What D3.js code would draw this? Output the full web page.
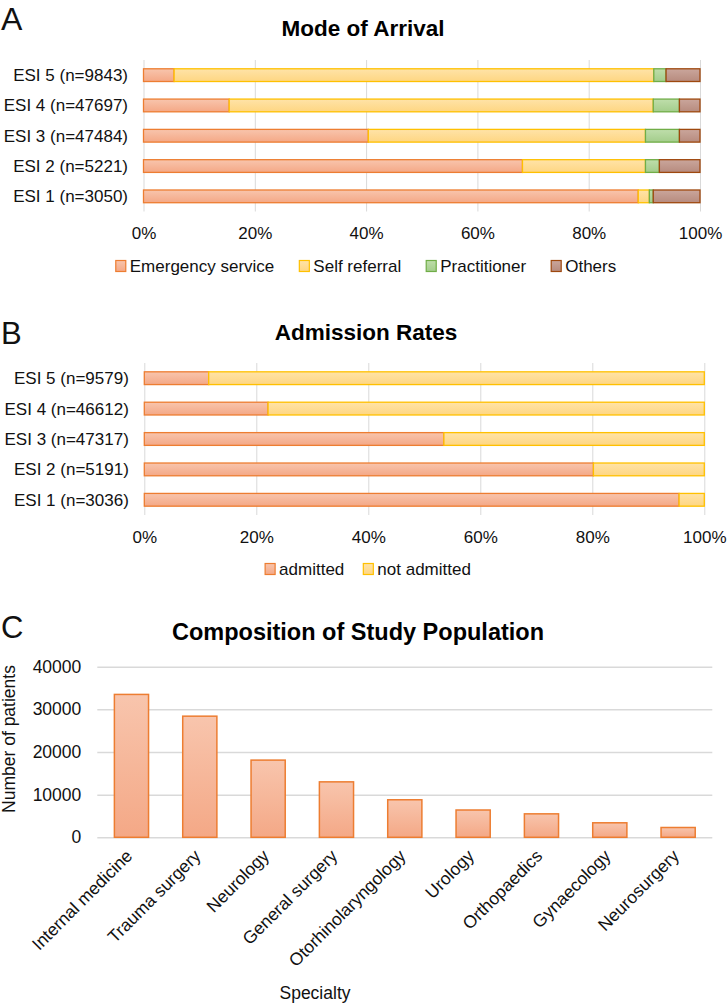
<!DOCTYPE html>
<html><head><meta charset="utf-8">
<script src="https://cdn.jsdelivr.net/npm/d3@7"></script>
<style>
body{margin:0;background:#fff}
svg{display:block;font-family:"Liberation Sans",Arial,Helvetica,sans-serif}
</style>
</head><body>
<svg id="chart" width="727" height="1004"></svg>
<script>
// ---------- Panel A: Mode of Arrival ----------
const arrivalCategories = ["ESI 1 (n=3050)", "ESI 2 (n=5221)", "ESI 3 (n=47484)", "ESI 4 (n=47697)", "ESI 5 (n=9843)"];
const arrivalSeries = ["Emergency service", "Self referral", "Practitioner", "Others"];
const emergencyService = [88.9, 68.1, 40.4, 15.4, 5.5];
const selfReferral     = [2.0, 22.1, 49.8, 76.2, 86.2];
const practitioner     = [0.7, 2.5, 6.1, 4.7, 2.2];
const others           = [8.4, 7.3, 3.7, 3.7, 6.1];

// ---------- Panel B: Admission Rates ----------
const admissionCategories = ["ESI 1 (n=3036)", "ESI 2 (n=5191)", "ESI 3 (n=47317)", "ESI 4 (n=46612)", "ESI 5 (n=9579)"];
const admissionSeries = ["admitted", "not admitted"];
const admitted    = [95.5, 80.2, 53.5, 22.1, 11.5];
const notAdmitted = [4.5, 19.8, 46.5, 77.9, 88.5];

// ---------- Panel C: Composition of Study Population ----------
const specialties = ["Internal medicine", "Trauma surgery", "Neurology", "General surgery", "Otorhinolaryngology", "Urology", "Orthopaedics", "Gynaecology", "Neurosurgery"];
const patients = [33500, 28400, 18100, 13000, 8800, 6400, 5500, 3400, 2300];

const percentTicks = [0, 20, 40, 60, 80, 100];
const countTicks = [0, 10000, 20000, 30000, 40000];

// ---------- styles ----------
const palette = {
  "Emergency service": {stroke: "#ed7d31", top: "#f8c5ad", bot: "#f4a886"},
  "Self referral":     {stroke: "#ffc000", top: "#ffe3a8", bot: "#fed682"},
  "Practitioner":      {stroke: "#70ad47", top: "#bfdeab", bot: "#a3cd8b"},
  "Others":            {stroke: "#9e480e", top: "#caa69c", bot: "#b78b7e"},
  "admitted":          {stroke: "#ed7d31", top: "#f8c5ad", bot: "#f4a886"},
  "not admitted":      {stroke: "#ffc000", top: "#ffe3a8", bot: "#fed682"}
};
const gridColor = "#d9d9d9";
const textColor = "#111";

const svg = d3.select("#chart");
svg.append("rect").attr("width", 727).attr("height", 1004).attr("fill", "#fff");
const defs = svg.append("defs");
Object.keys(palette).forEach((k, i) => {
  const g = defs.append("linearGradient").attr("id", "g" + i).attr("x1", 0).attr("y1", 0).attr("x2", 0).attr("y2", 1);
  g.append("stop").attr("offset", "0%").attr("stop-color", palette[k].top);
  g.append("stop").attr("offset", "100%").attr("stop-color", palette[k].bot);
  palette[k].fill = "url(#g" + i + ")";
});

function stackedPanel(cfg) {
  const rows = cfg.categories.map((c, i) => {
    const r = {cat: c};
    cfg.series.forEach((s, j) => r[s] = cfg.values[j][i]);
    return r;
  });
  const stacked = d3.stack().keys(cfg.series)(rows);
  const x = d3.scaleLinear().domain([0, 100]).range([cfg.x0, cfg.x1]);
  const y = d3.scaleBand().domain(cfg.categories.slice().reverse()).range([cfg.y0, cfg.y1])
    .paddingInner(0.58).paddingOuter(0.29);

  // panel letter + title
  svg.append("text").attr("x", 1).attr("y", cfg.letterY).attr("font-size", cfg.letterSize)
    .attr("fill", textColor).text(cfg.letter);
  svg.append("text").attr("x", cfg.titleX).attr("y", cfg.titleY).attr("text-anchor", "middle")
    .attr("font-size", 22.5).attr("font-weight", "bold").attr("fill", "#000").text(cfg.title);

  // grid + ticks
  const ax = svg.append("g").attr("transform", `translate(0,${cfg.y1})`)
    .call(d3.axisBottom(x).tickValues(percentTicks).tickFormat(d => d + "%")
      .tickSize(-(cfg.y1 - cfg.y0)).tickPadding(15.5));
  ax.select(".domain").remove();
  ax.selectAll(".tick line").attr("stroke", gridColor).attr("stroke-width", 1);
  ax.selectAll(".tick text").attr("font-size", 17).attr("fill", textColor)
    .attr("font-family", '"Liberation Sans",Arial,sans-serif');

  // bars
  const g = svg.append("g");
  stacked.forEach(layer => {
    const p = palette[layer.key];
    g.selectAll(null).data(layer).join("rect")
      .attr("x", d => x(d[0]))
      .attr("y", d => y(d.data.cat))
      .attr("width", d => x(d[1]) - x(d[0]))
      .attr("height", y.bandwidth())
      .attr("fill", p.fill).attr("stroke", p.stroke).attr("stroke-width", 1.3);
  });

  // category labels
  svg.append("g").selectAll("text").data(cfg.categories).join("text")
    .attr("x", cfg.x0 - 15.5).attr("y", d => y(d) + y.bandwidth() / 2).attr("dy", "0.35em")
    .attr("text-anchor", "end").attr("font-size", 17).attr("fill", textColor).text(d => d);

  // legend
  const lg = svg.append("g");
  let cx = 0;
  cfg.series.forEach((s, i) => {
    const item = lg.append("g").attr("transform", `translate(${cx},0)`);
    item.append("rect").attr("x", 0).attr("y", -5.5).attr("width", 10).attr("height", 11)
      .attr("fill", palette[s].fill).attr("stroke", palette[s].stroke).attr("stroke-width", 1.2);
    const t = item.append("text").attr("x", 14).attr("y", 0).attr("dy", "0.35em")
      .attr("font-size", 17).attr("fill", textColor).text(s);
    cx += 14 + t.node().getComputedTextLength() + cfg.legendGap;
  });
  const totalW = cx - cfg.legendGap;
  lg.attr("transform", `translate(${cfg.legendCX - totalW / 2},${cfg.legendY})`);
}

stackedPanel({
  letter: "A", letterY: 30, letterSize: 32,
  title: "Mode of Arrival", titleX: 363, titleY: 36,
  categories: arrivalCategories, series: arrivalSeries,
  values: [emergencyService, selfReferral, practitioner, others],
  x0: 143.5, x1: 700, y0: 60, y1: 211.5,
  legendCX: 366, legendY: 266, legendGap: 25
});

stackedPanel({
  letter: "B", letterY: 344, letterSize: 31,
  title: "Admission Rates", titleX: 366, titleY: 339.5,
  categories: admissionCategories, series: admissionSeries,
  values: [admitted, notAdmitted],
  x0: 144.3, x1: 704.3, y0: 363, y1: 515,
  legendCX: 368, legendY: 569, legendGap: 19
});

// ---------- Panel C ----------
(function () {
  const x = d3.scaleBand().domain(specialties).range([97.3, 712.3]).paddingInner(0.5).paddingOuter(0.25);
  const y = d3.scaleLinear().domain([0, 40000]).range([837.3, 666.7]);

  svg.append("text").attr("x", 1).attr("y", 638).attr("font-size", 31).attr("fill", textColor).text("C");
  svg.append("text").attr("x", 358).attr("y", 640).attr("text-anchor", "middle")
    .attr("font-size", 23.5).attr("font-weight", "bold").attr("fill", "#000")
    .text("Composition of Study Population");

  const ay = svg.append("g").attr("transform", "translate(97.3,0)")
    .call(d3.axisLeft(y).tickValues(countTicks).tickFormat(d3.format("d"))
      .tickSize(-(712.3 - 97.3)).tickPadding(16));
  ay.select(".domain").remove();
  ay.selectAll(".tick line").attr("stroke", gridColor).attr("stroke-width", 1.5);
  ay.selectAll(".tick text").attr("font-size", 17.5).attr("fill", textColor)
    .attr("font-family", '"Liberation Sans",Arial,sans-serif');

  const p = palette["Emergency service"];
  svg.append("g").selectAll("rect").data(patients).join("rect")
    .attr("x", (d, i) => x(specialties[i]))
    .attr("y", d => y(d))
    .attr("width", x.bandwidth())
    .attr("height", d => y(0) - y(d))
    .attr("fill", p.fill).attr("stroke", p.stroke).attr("stroke-width", 1.5);

  svg.append("g").selectAll("text").data(specialties).join("text")
    .attr("transform", d => `translate(${x(d) + x.bandwidth() / 2 + 2},857) rotate(-45)`)
    .attr("text-anchor", "end").attr("font-size", 17.5).attr("fill", textColor).text(d => d);

  svg.append("text").attr("transform", "translate(15,739) rotate(-90)")
    .attr("text-anchor", "middle").attr("font-size", 17.5).attr("fill", textColor).text("Number of patients");
  svg.append("text").attr("x", 315).attr("y", 999).attr("text-anchor", "middle")
    .attr("font-size", 17.5).attr("fill", textColor).text("Specialty");
})();
</script>
</body></html>
